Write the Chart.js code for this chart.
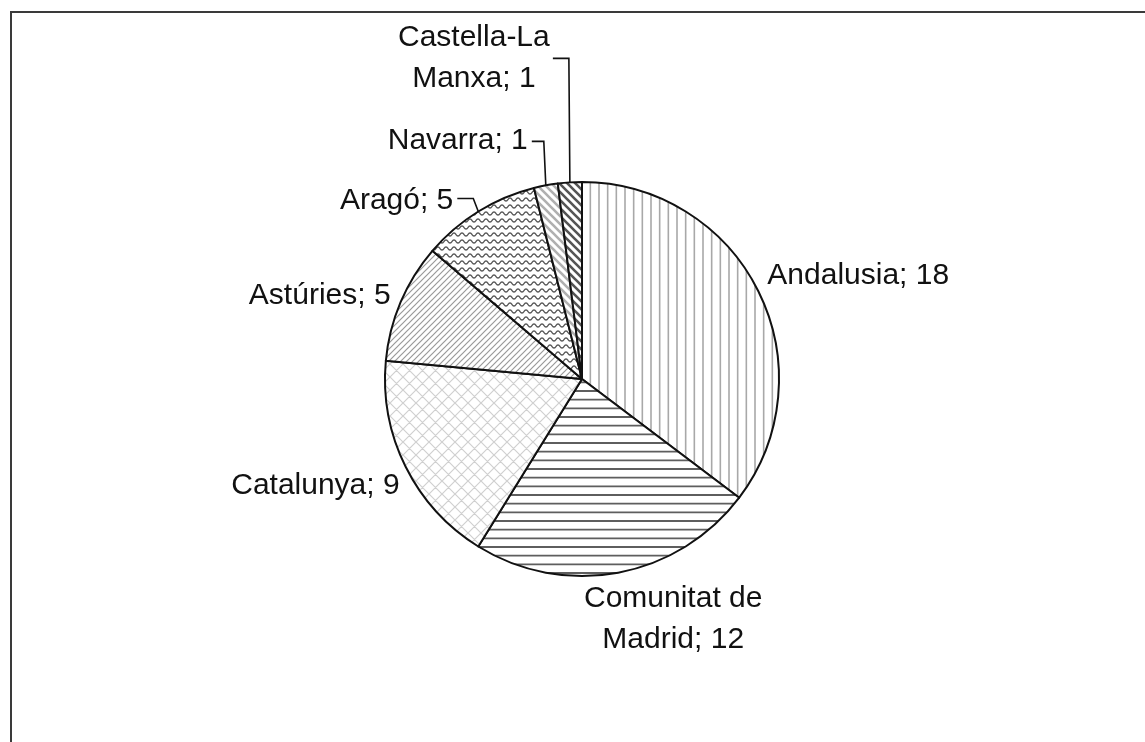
<!DOCTYPE html>
<html>
<head>
<meta charset="utf-8">
<script src="https://cdn.jsdelivr.net/npm/chart.js@4.4.1/dist/chart.umd.min.js"></script>
<style>
  html, body { margin: 0; padding: 0; background: #fff; }
  #wrap { width: 1145px; height: 742px; }
</style>
</head>
<body>
<div id="wrap"><canvas id="pie" width="1145" height="742"></canvas></div>
<script>
/* ===== Dades ===== */
const categories = ['Andalusia', 'Comunitat de\nMadrid', 'Catalunya', 'Astúries', 'Aragó', 'Navarra', 'Castella-La\nManxa'];
const values = [18, 12, 9, 5, 5, 1, 1];

/* ===== Posició de les etiquetes (desplaçament respecte del punt mig de l'arc) ===== */
const labelStyle = [
  { dx: 9,   dy: -7,   align: 'left' },
  { dx: 55,  dy: 34,   align: 'center' },
  { dx: -6,  dy: 27,   align: 'right' },
  { dx: -10, dy: 2,    align: 'right' },
  { dx: -25, dy: -3,   align: 'right', leader: [[-21, -13], [-5, -13]] },
  { dx: -18, dy: -36,  align: 'right', leader: [[-14, -44], [-2, -44]] },
  { dx: -96, dy: -136, align: 'center', leader: [[-17, -124], [-1, -124]] },
];

/* ===== Trames ===== */
function makePattern(w, h, draw) {
  const c = document.createElement('canvas');
  c.width = w; c.height = h;
  const g = c.getContext('2d');
  g.fillStyle = '#fff';
  g.fillRect(0, 0, w, h);
  draw(g, w, h);
  return g.createPattern(c, 'repeat');
}

function stroke(g, color, width, segs) {
  g.strokeStyle = color;
  g.lineWidth = width;
  g.beginPath();
  segs.forEach(s => { g.moveTo(s[0], s[1]); g.lineTo(s[2], s[3]); });
  g.stroke();
}

const patterns = [
  // verticals
  makePattern(26, 26, (g) => stroke(g, '#a8a8a8', 1.6, [[1, 0, 1, 26], [9.67, 0, 9.67, 26], [18.33, 0, 18.33, 26]])),
  // horitzontals
  makePattern(26, 26, (g) => stroke(g, '#5e5e5e', 1.8, [[0, 1, 26, 1], [0, 9.67, 26, 9.67], [0, 18.33, 26, 18.33]])),
  // quadrícula diagonal
  makePattern(13, 13, (g) => stroke(g, '#d0d0d0', 1.2, [[-1, -1, 14, 14], [-1, 14, 14, -1], [-7.5, 5.5, 5.5, -7.5], [7.5, 19.5, 19.5, 7.5], [-7.5, 7.5, 5.5, 20.5], [7.5, -6.5, 20.5, 6.5]])),
  // diagonal fina
  makePattern(6, 6, (g) => stroke(g, '#9a9a9a', 1.2, [[-1, 7, 7, -1], [-4, 4, 4, -4], [2, 10, 10, 2]])),
  // ondulada
  makePattern(8, 7, (g) => {
    g.strokeStyle = '#555';
    g.lineWidth = 1.3;
    g.beginPath();
    for (let x = -1; x <= 9; x += 0.5) {
      const y = 3.5 + 1.6 * Math.sin((x / 8) * Math.PI * 2);
      if (x === -1) g.moveTo(x, y); else g.lineTo(x, y);
    }
    g.stroke();
  }),
  // diagonal ampla clara
  makePattern(8, 8, (g) => stroke(g, '#b0b0b0', 2.6, [[-1, -1, 9, 9], [-5, 3, 1, 9], [3, -5, 9, 1]])),
  // diagonal ampla fosca
  makePattern(8, 8, (g) => stroke(g, '#555', 2.6, [[-1, -1, 9, 9], [-5, 3, 1, 9], [3, -5, 9, 1]])),
];

/* ===== Plugin: marc i etiquetes ===== */
const frameAndLabels = {
  id: 'frameAndLabels',
  beforeDraw(chart) {
    const ctx = chart.ctx;
    ctx.save();
    ctx.fillStyle = '#fff';
    ctx.fillRect(0, 0, chart.width, chart.height);
    ctx.strokeStyle = '#3a3a3a';
    ctx.lineWidth = 2;
    ctx.beginPath();
    ctx.moveTo(11, chart.height);
    ctx.lineTo(11, 12);
    ctx.lineTo(chart.width, 12);
    ctx.stroke();
    ctx.restore();
  },
  afterDatasetsDraw(chart) {
    const ctx = chart.ctx;
    const meta = chart.getDatasetMeta(0);
    ctx.save();
    ctx.font = '30px "Liberation Sans", Arial, sans-serif';
    ctx.fillStyle = '#111';
    ctx.textBaseline = 'alphabetic';
    meta.data.forEach((arc, i) => {
      const mid = (arc.startAngle + arc.endAngle) / 2;
      const ax = arc.x + Math.cos(mid) * arc.outerRadius;
      const ay = arc.y + Math.sin(mid) * arc.outerRadius;
      const st = labelStyle[i];
      const lines = (categories[i] + '; ' + values[i]).split('\n');
      ctx.textAlign = st.align;
      lines.forEach((ln, k) => {
        ctx.fillText(ln, ax + st.dx, ay + st.dy + k * 41);
      });
      if (st.leader) {
        ctx.strokeStyle = '#111';
        ctx.lineWidth = 1.6;
        ctx.beginPath();
        ctx.moveTo(ax + st.leader[0][0], ay + st.leader[0][1]);
        ctx.lineTo(ax + st.leader[1][0], ay + st.leader[1][1]);
        ctx.lineTo(ax, ay);
        ctx.stroke();
      }
    });
    ctx.restore();
  }
};

new Chart(document.getElementById('pie'), {
  type: 'pie',
  data: {
    labels: categories,
    datasets: [{
      data: values,
      backgroundColor: patterns,
      borderColor: '#111',
      borderWidth: 2,
      borderJoinStyle: 'round',
    }]
  },
  options: {
    responsive: false,
    animation: false,
    radius: 197,
    layout: { padding: { top: 182, bottom: 166, left: 290, right: 271 } },
    plugins: {
      legend: { display: false },
      tooltip: { enabled: false },
    },
  },
  plugins: [frameAndLabels],
});
</script>
</body>
</html>
